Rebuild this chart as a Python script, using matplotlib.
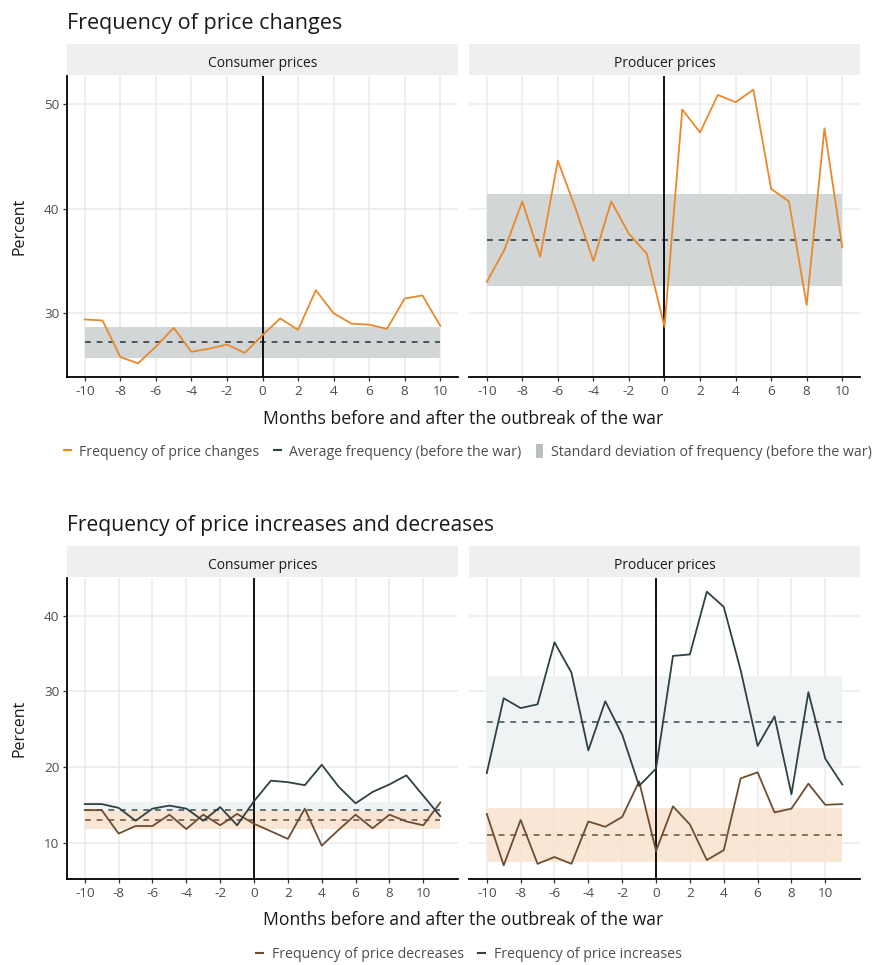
import matplotlib
matplotlib.use("Agg")
import matplotlib.pyplot as plt
from matplotlib.lines import Line2D
from matplotlib.patches import Patch
import numpy as np

plt.rcParams["font.family"] = ["Open Sans", "DejaVu Sans"]
plt.rcParams["axes.unicode_minus"] = False

# ---- data: frequency of price changes (months -10..10)
months_top = list(range(-10, 11))
consumer_changes = [29.4, 29.3, 25.8, 25.2, 26.8, 28.6, 26.3, 26.6, 27.0, 26.2,
                    27.9, 29.5, 28.4, 32.2, 30.0, 29.0, 28.9, 28.5, 31.4, 31.7, 28.8]
producer_changes = [33.0, 36.1, 40.7, 35.4, 44.6, 40.0, 35.0, 40.7, 37.6, 35.7,
                    28.7, 49.5, 47.3, 50.9, 50.2, 51.4, 41.9, 40.7, 30.8, 47.7, 36.3]
consumer_mean, consumer_sd = 27.2, 1.46
producer_mean, producer_sd = 37.0, 4.37

# ---- data: frequency of price increases / decreases (months -10..11)
months_bot = list(range(-10, 12))
consumer_incr = [15.1, 15.1, 14.6, 12.9, 14.5, 14.9, 14.5, 12.9, 14.7, 12.3, 15.5,
                 18.2, 18.0, 17.6, 20.3, 17.4, 15.2, 16.7, 17.7, 18.9, 16.2, 13.5]
consumer_decr = [14.3, 14.3, 11.2, 12.2, 12.2, 13.7, 11.8, 13.7, 12.3, 13.8, 12.5,
                 11.5, 10.5, 14.5, 9.6, 11.7, 13.7, 11.9, 13.7, 12.8, 12.3, 15.3]
producer_incr = [19.2, 29.1, 27.8, 28.3, 36.5, 32.5, 22.2, 28.7, 24.3, 17.5, 19.8,
                 34.7, 34.9, 43.2, 41.2, 32.8, 22.8, 26.7, 16.4, 29.9, 21.1, 17.7]
producer_decr = [13.8, 7.0, 13.0, 7.2, 8.1, 7.2, 12.8, 12.1, 13.4, 18.1, 8.9,
                 14.8, 12.4, 7.7, 9.0, 18.5, 19.3, 14.0, 14.5, 17.8, 15.0, 15.1]
cons_incr_mean, cons_incr_sd = 14.3, 1.05
cons_decr_mean, cons_decr_sd = 12.95, 1.2
prod_incr_mean, prod_incr_sd = 26.0, 6.0
prod_decr_mean, prod_decr_sd = 11.0, 3.6

panel_names = ["Consumer prices", "Producer prices"]
xticks = list(range(-10, 11, 2))

ORANGE = "#e8892b"
DARK = "#2e4145"
BROWN = "#6d4e33"
BAND_GREY = "#d2d6d6"
BAND_BLUE = "#eff3f4"
BAND_ORANGE = "#f9e2cd"
GRID = "#ebebeb"
STRIP = "#efefef"
TXT = "#4d4d4d"

W, H = 879, 965
fig = plt.figure(figsize=(W / 100, H / 100), dpi=100)


def box(x0, y0, x1, y1):
    return [x0 / W, 1 - y1 / H, (x1 - x0) / W, (y1 - y0) / H]


def style_panel(ax, first, name, x0, x1, y0):
    ax.set_facecolor("white")
    for s in ["top", "right"]:
        ax.spines[s].set_visible(False)
    ax.spines["bottom"].set_linewidth(1.3)
    ax.spines["left"].set_linewidth(1.3)
    ax.grid(True, color=GRID, lw=1.1, zorder=0)
    ax.set_axisbelow(True)
    ax.tick_params(axis="both", length=3, width=0.9, color="#333333",
                   labelsize=9.7, labelcolor=TXT, pad=2.5)
    if not first:
        ax.spines["left"].set_visible(False)
        ax.tick_params(axis="y", length=0, labelleft=False)
    ax.set_xticks(xticks)
    # facet strip
    sax = fig.add_axes(box(x0, y0 - 32, x1, y0 - 1))
    sax.set_facecolor(STRIP)
    sax.set_xticks([])
    sax.set_yticks([])
    for s in sax.spines.values():
        s.set_visible(False)
    sax.text(0.5, 0.45, name, ha="center", va="center_baseline", fontsize=10,
             color="#1a1a1a", transform=sax.transAxes)


def limits(values, pad=0.05):
    lo, hi = min(values), max(values)
    d = (hi - lo) * pad
    return lo - d, hi + d


# ================= top section =================
top_y0, top_y1 = 76, 377
xl_top = limits(months_top)
yl_top = limits(consumer_changes + producer_changes)
top_data = [(consumer_changes, consumer_mean, consumer_sd),
            (producer_changes, producer_mean, producer_sd)]
for i, (x0, x1) in enumerate([(67, 458), (469, 860)]):
    ax = fig.add_axes(box(x0, top_y0, x1, top_y1))
    vals, m, sd = top_data[i]
    ax.fill_between([months_top[0], months_top[-1]], m - sd, m + sd,
                    color=BAND_GREY, lw=0, zorder=1)
    ax.plot([months_top[0], months_top[-1]], [m, m], color=DARK, lw=1.2,
            ls=(0, (3.5, 3.5)), zorder=2)
    ax.axvline(0, color="black", lw=1.3, zorder=3)
    ax.plot(months_top, vals, color=ORANGE, lw=1.3, zorder=4)
    ax.set_xlim(*xl_top)
    ax.set_ylim(*yl_top)
    ax.set_yticks([30, 40, 50])
    style_panel(ax, i == 0, panel_names[i], x0, x1, top_y0)

fig.text(67 / W, 1 - 24 / H, "Frequency of price changes", fontsize=15.5,
         ha="left", va="center", color="#1a1a1a")
fig.text(20 / W, 1 - 226 / H, "Percent", fontsize=11.5, rotation=90,
         ha="center", va="center", color="#1a1a1a")
fig.text(463 / W, 1 - 419 / H, "Months before and after the outbreak of the war",
         fontsize=12.7, ha="center", va="center", color="#1a1a1a")
handles_top = [Line2D([], [], color=ORANGE, lw=1.5),
               Line2D([], [], color=DARK, lw=1.5),
               Patch(facecolor="#b9bebe", edgecolor="none")]
fig.legend(handles_top, ["Frequency of price changes",
                         "Average frequency (before the war)",
                         "Standard deviation of frequency (before the war)"],
           loc="center", bbox_to_anchor=(468 / W, 1 - 452 / H), ncol=3,
           frameon=False, fontsize=10.2, handlelength=0.5, handleheight=1.1,
           handletextpad=0.6, columnspacing=1.0, labelcolor=TXT)

# ================= bottom section =================
bot_y0, bot_y1 = 578, 879
xl_bot = limits(months_bot)
yl_bot = limits(consumer_incr + consumer_decr + producer_incr + producer_decr)
bot_data = [(consumer_incr, consumer_decr, cons_incr_mean, cons_incr_sd,
             cons_decr_mean, cons_decr_sd),
            (producer_incr, producer_decr, prod_incr_mean, prod_incr_sd,
             prod_decr_mean, prod_decr_sd)]
for i, (x0, x1) in enumerate([(67, 458), (469, 860)]):
    ax = fig.add_axes(box(x0, bot_y0, x1, bot_y1))
    inc, dec, mi, si, md, sdd = bot_data[i]
    span = [months_bot[0], months_bot[-1]]
    ax.fill_between(span, mi - si, mi + si, color=BAND_BLUE, lw=0, zorder=1)
    ax.fill_between(span, md - sdd, md + sdd, color=BAND_ORANGE, lw=0,
                    alpha=0.85, zorder=1)
    ax.plot(span, [mi, mi], color="#4a5a5e", lw=1.2, ls=(0, (3.5, 3.5)), zorder=2)
    ax.plot(span, [md, md], color="#7a5a3e", lw=1.2, ls=(0, (3.5, 3.5)), zorder=2)
    ax.axvline(0, color="black", lw=1.3, zorder=3)
    ax.plot(months_bot, dec, color=BROWN, lw=1.3, zorder=4)
    ax.plot(months_bot, inc, color=DARK, lw=1.3, zorder=4)
    ax.set_xlim(*xl_bot)
    ax.set_ylim(*yl_bot)
    ax.set_yticks([10, 20, 30, 40])
    style_panel(ax, i == 0, panel_names[i], x0, x1, bot_y0)

fig.text(67 / W, 1 - 525 / H, "Frequency of price increases and decreases",
         fontsize=15.2, ha="left", va="center", color="#1a1a1a")
fig.text(20 / W, 1 - 728 / H, "Percent", fontsize=11.5, rotation=90,
         ha="center", va="center", color="#1a1a1a")
fig.text(463 / W, 1 - 920 / H, "Months before and after the outbreak of the war",
         fontsize=12.7, ha="center", va="center", color="#1a1a1a")
handles_bot = [Line2D([], [], color=BROWN, lw=1.5),
               Line2D([], [], color=DARK, lw=1.5)]
fig.legend(handles_bot, ["Frequency of price decreases",
                         "Frequency of price increases"],
           loc="center", bbox_to_anchor=(469 / W, 1 - 954 / H), ncol=2,
           frameon=False, fontsize=10.2, handlelength=0.5,
           handletextpad=0.6, columnspacing=1.0, labelcolor=TXT)

fig.savefig("out.png", dpi=100, facecolor="white")
